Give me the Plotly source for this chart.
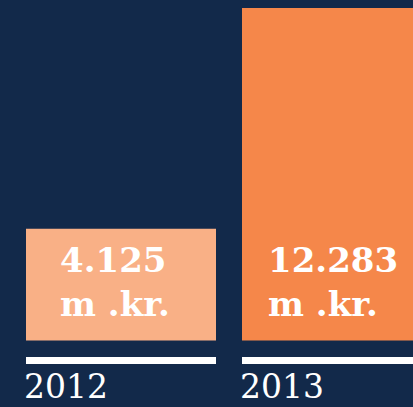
import plotly.graph_objects as go

years = ["2012", "2013"]
values = [4.125, 12.283]
value_labels = ["4.125<br>m .kr.", "12.283<br>m .kr."]
bar_colors = ["#F9B086", "#F5874A"]

BG = "#12294A"
W, H = 413, 407
PX_PER_CAT = 216.0
BAR_W = 190.0 / PX_PER_CAT
X0 = -121.0 / PX_PER_CAT
X1 = X0 + W / PX_PER_CAT

BASE_PX = 340.5
TOP_PX = 8.0
ppu = (BASE_PX - TOP_PX) / max(values)
Y_TOP = max(values) + TOP_PX / ppu
Y_BOT = -(H - BASE_PX) / ppu

xs = list(range(len(years)))

fig = go.Figure()
fig.add_trace(go.Bar(
    x=xs, y=values, width=BAR_W,
    marker=dict(color=bar_colors, line=dict(width=0)),
    hoverinfo="skip",
))

def py(px):
    return 1 - px / H

shapes = []
annotations = []
text_offsets = [32, 24]
for i, (yr, lab) in enumerate(zip(years, value_labels)):
    left = i - BAR_W / 2
    right = i + BAR_W / 2
    shapes.append(dict(type="rect", xref="x", yref="paper",
                       x0=left, x1=right, y0=py(364), y1=py(357),
                       fillcolor="white", line=dict(width=0)))
    annotations.append(dict(x=left, y=py(407), xref="x", yref="paper",
                            xanchor="left", yanchor="bottom", text=yr,
                            showarrow=False, align="left", xshift=-3, borderpad=0,
                            font=dict(family="DejaVu Serif", size=33, color="white")))
    annotations.append(dict(x=left + text_offsets[i] / PX_PER_CAT, y=py(282), xref="x", yref="paper",
                            xanchor="left", yanchor="middle", text="<b>" + lab.replace("<br>", "</b><br><b>") + "</b>",
                            showarrow=False, align="left",
                            font=dict(family="DejaVu Serif", size=34, color="white")))

fig.update_layout(
    width=W, height=H,
    margin=dict(l=0, r=0, t=0, b=0),
    paper_bgcolor=BG, plot_bgcolor=BG,
    showlegend=False,
    xaxis=dict(range=[X0, X1], visible=False, fixedrange=True),
    yaxis=dict(range=[Y_BOT, Y_TOP], visible=False, fixedrange=True),
    shapes=shapes, annotations=annotations,
)

fig.write_html(
    "out.html",
    config={"displayModeBar": False},
    post_script="document.body.style.margin='0px';document.body.style.background='" + BG + "';document.body.style.overflow='hidden';",
)
